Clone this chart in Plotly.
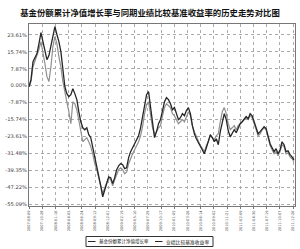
import pandas as pd
import plotly.graph_objects as go

title = "基金份额累计净值增长率与同期业绩比较基准收益率的历史走势对比图"
series_names = ["基金份额累计净值增长率", "业绩比较基准收益率"]

start_date = "2007-08-09"
end_date = "2011-12-31"

tick_dates = ["2007-08-09", "2007-10-28", "2008-01-16", "2008-04-05", "2008-06-24",
              "2008-09-12", "2008-12-01", "2009-02-19", "2009-05-10", "2009-07-29",
              "2009-10-17", "2010-01-05", "2010-03-26", "2010-06-14", "2010-09-02",
              "2010-11-21", "2011-02-09", "2011-04-30", "2011-07-19", "2011-10-07",
              "2011-12-26"]

y_ticks = [23.61, 15.74, 7.87, 0.00, -7.87, -15.74, -23.61, -31.48, -39.35, -47.22, -55.09]
y_tick_text = ["23.61%", "15.74%", "7.87%", "0.00%", "-7.87%", "-15.74%", "-23.61%",
               "-31.48%", "-39.35%", "-47.22%", "-55.09%"]

fund = [-0.5, 2.8, 11.2, 13.5, 14.9, 19.6, 24.7, 20.5, 16.8, 12.1,
        14.0, 18.6, 24.2, 27.5, 23.8, 20.5, 15.8, 6.5, -0.5, -3.7,
        -5.1, -4.2, -1.4, -3.7, -6.5, -12.1, -16.8, -19.6, -20.5, -19.6,
        -22.8, -24.2, -28.4, -33.5, -37.3, -41.0, -46.6, -51.7, -48.4, -45.6,
        -42.4, -42.8, -45.6, -42.8, -39.1, -37.3, -36.3, -36.8, -38.6, -38.2,
        -33.5, -30.7, -28.9, -27.0, -25.1, -23.3, -19.6, -14.4, -8.8, -4.2,
        -2.8, -9.8, -17.7, -24.2, -21.4, -17.7, -15.8, -11.2, -7.5, -5.6,
        -6.5, -8.4, -11.2, -10.2, -13.0, -15.8, -14.9, -13.0, -14.0, -11.6,
        -10.2, -13.0, -18.6, -22.4, -24.7, -26.5, -28.4, -29.8, -31.7, -28.9,
        -25.6, -22.8, -24.2, -26.1, -24.7, -27.5, -21.4, -16.3, -13.0, -15.8,
        -21.0, -23.8, -22.4, -20.5, -21.9, -19.6, -17.7, -16.8, -15.4, -14.4,
        -15.4, -13.0, -14.0, -16.8, -19.6, -22.4, -21.4, -20.0, -19.1, -20.0,
        -23.8, -27.0, -28.9, -30.7, -29.3, -31.7, -29.8, -26.1, -27.5, -30.7,
        -30.3, -32.1, -33.1, -34.5]

benchmark = [-0.5, 1.9, 8.8, 11.2, 13.5, 16.8, 20.5, 15.8, 10.2, 4.2,
             1.9, 8.8, 18.2, 22.8, 19.6, 13.5, 8.8, 1.9, -3.7, -7.5,
             -12.1, -17.7, -7.5, -8.4, -11.2, -15.8, -20.5, -26.1, -25.1, -24.2,
             -26.1, -28.4, -31.7, -36.3, -39.1, -42.8, -47.5, -50.3, -47.5, -44.7,
             -42.8, -43.8, -46.6, -43.8, -41.0, -39.1, -38.2, -39.1, -41.0, -40.1,
             -36.3, -33.5, -31.7, -29.8, -27.9, -26.1, -23.3, -19.1, -13.0, -8.8,
             -7.5, -13.0, -19.6, -22.4, -21.4, -19.6, -18.6, -14.0, -10.2, -8.4,
             -9.3, -10.2, -13.0, -14.0, -15.8, -17.7, -16.8, -15.8, -16.8, -14.0,
             -12.1, -14.0, -18.6, -21.4, -23.8, -26.1, -27.9, -29.3, -30.7, -27.9,
             -26.1, -23.3, -24.2, -25.1, -23.3, -22.4, -16.8, -12.1, -10.2, -13.0,
             -17.7, -20.5, -19.6, -18.6, -20.5, -18.6, -17.7, -16.8, -15.8, -14.9,
             -15.8, -14.0, -14.9, -17.7, -20.5, -23.3, -22.4, -20.5, -19.6, -20.5,
             -24.2, -27.9, -29.8, -31.7, -30.7, -32.6, -30.7, -27.5, -28.4, -31.7,
             -31.2, -33.1, -34.0, -35.4]

n = min(len(fund), len(benchmark))
dates = pd.date_range(start_date, end_date, periods=n)

fig = go.Figure()
fig.add_trace(go.Scatter(x=dates, y=benchmark[:n], mode="lines", name=series_names[1],
                         line=dict(color="#8f8f8f", width=1.2)))
fig.add_trace(go.Scatter(x=dates, y=fund[:n], mode="lines", name=series_names[0],
                         line=dict(color="#262626", width=1.3)))

font_cjk = "Noto Sans CJK SC"

# plot area in pixels: x 29..295, y 24..206
def px_x(p):
    return (p - 29) / 266.0

def px_y(p):
    return (206 - p) / 182.0

shapes = [
    dict(type="rect", xref="paper", yref="paper",
         x0=px_x(86), x1=px_x(213), y0=px_y(246.5), y1=px_y(236.5),
         line=dict(color="#333333", width=1), fillcolor="white", layer="above"),
    dict(type="line", xref="paper", yref="paper",
         x0=px_x(88), x1=px_x(95.5), y0=px_y(241.5), y1=px_y(241.5),
         line=dict(color="#262626", width=1)),
    dict(type="line", xref="paper", yref="paper",
         x0=px_x(155), x1=px_x(162.5), y0=px_y(241.5), y1=px_y(241.5),
         line=dict(color="#262626", width=1)),
]
annotations = [
    dict(xref="paper", yref="paper", x=px_x(96.5), y=px_y(241.5), xanchor="left",
         yanchor="middle", text=series_names[0], showarrow=False,
         font=dict(family=font_cjk, size=4.5, color="#222222")),
    dict(xref="paper", yref="paper", x=px_x(163.5), y=px_y(241.5), xanchor="left",
         yanchor="middle", text=series_names[1], showarrow=False,
         font=dict(family=font_cjk, size=4.8, color="#222222")),
]

fig.update_layout(
    width=300, height=249,
    margin=dict(l=29, r=5, t=24, b=43),
    paper_bgcolor="white", plot_bgcolor="white",
    title=dict(text=title, x=0.5, xanchor="center", xref="container",
               y=1 - 13 / 249, yref="container", yanchor="middle",
               font=dict(family=font_cjk, size=8.4, color="#111111", weight="bold")),
    font=dict(family=font_cjk, size=6, color="#333333"),
    showlegend=False,
    shapes=shapes,
    annotations=annotations,
)
fig.update_xaxes(
    range=[pd.Timestamp(start_date), pd.Timestamp("2012-01-06")],
    tickmode="array", tickvals=pd.to_datetime(tick_dates), ticktext=tick_dates,
    tickangle=-90, tickfont=dict(size=3.6, family="DejaVu Sans", color="#444444"),
    showgrid=True, gridcolor="#aaaaaa", griddash="dot", gridwidth=1,
    showline=True, linecolor="#777777", linewidth=1, mirror=True,
    ticks="outside", ticklen=2, tickcolor="#777777",
)
fig.update_yaxes(
    range=[-56.0, 28.7],
    tickmode="array", tickvals=y_ticks, ticktext=y_tick_text,
    tickfont=dict(size=5.2, family="DejaVu Sans", color="#444444"),
    showgrid=True, gridcolor="#aaaaaa", griddash="dot", gridwidth=1,
    showline=True, linecolor="#777777", linewidth=1, mirror=True,
    zeroline=False, ticks="", ticklen=2,
)

fig.write_html("out.html")
